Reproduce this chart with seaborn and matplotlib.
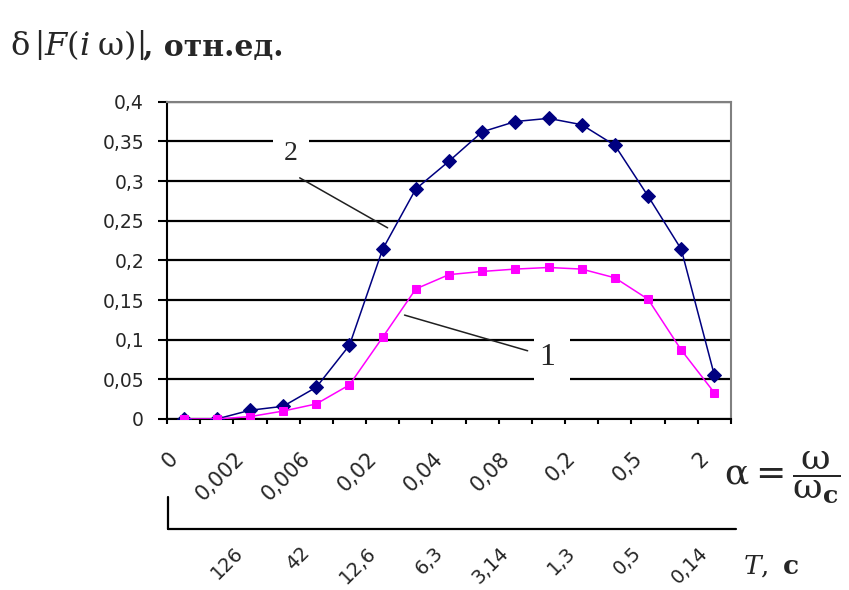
import numpy as np
import pandas as pd
import matplotlib
matplotlib.use("Agg")
import matplotlib.pyplot as plt
import matplotlib.transforms as mtransforms
from matplotlib.lines import Line2D
from matplotlib.patches import Rectangle
import seaborn as sns

# relative frequency alpha = omega / omega_c (labelled every second point)
alpha_labels = ["0", "0,002", "0,006", "0,02", "0,04", "0,08", "0,2", "0,5", "2"]
# corresponding period T, s
period_labels = ["126", "42", "12,6", "6,3", "3,14", "1,3", "0,5", "0,14"]

# error of |F(i omega)|, relative units
curve1 = [0.0, 0.0, 0.003, 0.010, 0.019, 0.043, 0.103, 0.164, 0.182, 0.186,
          0.189, 0.191, 0.189, 0.178, 0.151, 0.087, 0.033]
curve2 = [0.0, 0.0, 0.011, 0.016, 0.040, 0.093, 0.214, 0.290, 0.325, 0.362,
          0.375, 0.379, 0.371, 0.345, 0.281, 0.214, 0.055]

y_ticks = [0, 0.05, 0.1, 0.15, 0.2, 0.25, 0.3, 0.35, 0.4]
y_labels = ["0", "0,05", "0,1", "0,15", "0,2", "0,25", "0,3", "0,35", "0,4"]

sns.set_theme(style="white")
plt.rcParams["font.family"] = ["DejaVu Sans"]
plt.rcParams["mathtext.fontset"] = "dejavuserif"

W, H = 849, 590
fig = plt.figure(figsize=(W / 100, H / 100), dpi=100)
fig.patch.set_facecolor("white")
ax = fig.add_axes([167 / W, 1 - 419 / H, 564 / W, 317.3 / H])
ax.set_facecolor("white")

n = len(curve1)
df = pd.DataFrame({
    "idx": np.concatenate([np.arange(n), np.arange(n)]),
    "value": curve2 + curve1,
    "curve": ["2"] * n + ["1"] * n,
})

sns.lineplot(data=df[df.curve == "2"], x="idx", y="value", ax=ax,
             color="#000080", marker="D", markersize=7,
             markeredgecolor="#000080", linewidth=1.1, zorder=3)
sns.lineplot(data=df[df.curve == "1"], x="idx", y="value", ax=ax,
             color="#FF00FF", marker="s", markersize=6.3,
             markeredgecolor="#FF00FF", linewidth=1.1, zorder=4)

ax.set_xlim(-0.5, n - 0.5)
ax.set_ylim(0, 0.4)
ax.set_xlabel("")
ax.set_ylabel("")

# y axis with comma decimals and solid black gridlines
ax.set_yticks(y_ticks)
ax.set_yticklabels(y_labels, fontsize=13.5)
ax.yaxis.grid(True, color="black", linewidth=1.6)
ax.xaxis.grid(False)
ax.set_axisbelow(True)
ax.tick_params(axis="y", which="major", left=True, direction="out",
               length=6.5, width=1.5, color="black", pad=10)

# category boundaries as tick marks on the bottom axis
ax.set_xticks(np.arange(0, n, 2))
ax.set_xticklabels([])
ax.set_xticks(np.arange(-0.5, n, 1), minor=True)
ax.tick_params(axis="x", which="major", bottom=True, length=0)
ax.tick_params(axis="x", which="minor", bottom=True, direction="out",
               length=3.6, width=1.5, color="black")

for side in ("left", "bottom"):
    ax.spines[side].set_color("black")
    ax.spines[side].set_linewidth(1.5)
for side in ("top", "right"):
    ax.spines[side].set_color("#808080")
    ax.spines[side].set_linewidth(1.5)

# rotated category labels: alpha row and period row
blend = mtransforms.blended_transform_factory(ax.transData, ax.transAxes)
shift = mtransforms.ScaledTranslation(-16 / 100, 0, fig.dpi_scale_trans)
for k, lab in enumerate(alpha_labels):
    ax.text(2 * k, -0.092, lab, transform=blend + shift, rotation=45,
            rotation_mode="anchor", ha="right", va="top", fontsize=15,
            clip_on=False)
for k, lab in enumerate(period_labels):
    ax.text(2 * (k + 1), -0.392, lab, transform=blend + shift, rotation=45,
            rotation_mode="anchor", ha="right", va="top", fontsize=14,
            clip_on=False)

# curve labels with leader lines
ax.add_patch(Rectangle((2.68, 0.325), 1.09, 0.045, facecolor="white",
                       edgecolor="none", zorder=1))
ax.add_patch(Rectangle((10.55, 0.045), 1.11, 0.06, facecolor="white",
                       edgecolor="none", zorder=1))
ax.text(3.22, 0.335, "2", fontsize=20, family="Liberation Serif",
        ha="center", va="center", zorder=2)
ax.text(10.97, 0.077, "1", fontsize=23, family="Liberation Serif",
        ha="center", va="center", zorder=2)
ax.annotate("", xy=(6.15, 0.241), xytext=(3.5, 0.304),
            arrowprops=dict(arrowstyle="-", color="#202020", lw=1.1,
                            shrinkA=0, shrinkB=0))
ax.annotate("", xy=(10.37, 0.086), xytext=(6.66, 0.131),
            arrowprops=dict(arrowstyle="-", color="#202020", lw=1.1,
                            shrinkA=0, shrinkB=0))

# bracket separating the two scales
fig.add_artist(Line2D([168 / W, 168 / W], [1 - 497 / H, 1 - 529 / H],
                      color="black", linewidth=1.6))
fig.add_artist(Line2D([168 / W, 736 / W], [1 - 529 / H, 1 - 529 / H],
                      color="black", linewidth=1.6))

# axis titles
fig.text(10 / W, 1 - 45 / H,
         r"$\mathrm{\delta}\,\left|F(i\;\mathrm{\omega})\right|$",
         fontsize=23, ha="left", va="center")
fig.text(143 / W, 1 - 47 / H, ", отн.ед.", fontsize=21.5,
         family="DejaVu Serif", weight="bold", ha="left", va="center")
fig.text(724 / W, 1 - 477 / H,
         r"$\mathrm{\alpha} = \dfrac{\mathrm{\omega}}{\mathrm{\omega}_{\mathbf{c}}}$",
         fontsize=26, ha="left", va="center")
fig.text(743 / W, 1 - 567 / H, r"$T,\ \mathbf{c}$",
         fontsize=19, ha="left", va="center")

fig.savefig("out.png", dpi=100, facecolor="white")
